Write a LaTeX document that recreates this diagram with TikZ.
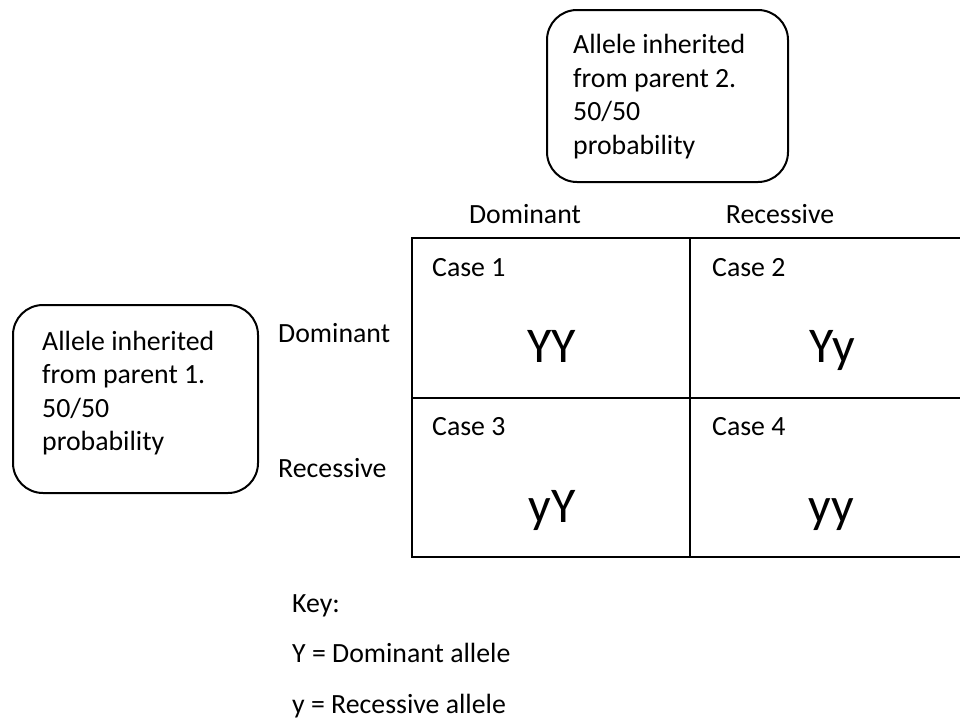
\documentclass[tikz,border=0pt]{standalone}
\usepackage{fontspec}
\setmainfont{Carlito}
\begin{document}
\begin{tikzpicture}[x=1pt,y=-1pt,
  txt/.style={inner sep=0pt, anchor=base west, font=\fontsize{27.8}{33.5}\selectfont, align=left},
  lbl/.style={inner sep=0pt, anchor=base, font=\fontsize{27.8}{33.5}\selectfont},
  big/.style={inner sep=0pt, anchor=base, font=\fontsize{50}{60}\selectfont},
  rbox/.style={draw, line width=2pt, rounded corners=30pt, inner sep=0pt},
  cell/.style={draw, line width=2pt, inner sep=0pt}]
\useasboundingbox (0,0) rectangle (960,720);
\clip (0,0) rectangle (960,720);
% rounded boxes
\node[rbox, minimum width=241pt, minimum height=172pt] (p2box) at (667.5,96) {};
\node[txt] (p2txt) at (573,154) {Allele inherited\\from parent 2.\\50/50\\probability};
\node[rbox, minimum width=245pt, minimum height=188pt] (p1box) at (135.5,399) {};
\node[txt] (p1txt) at (42,450.5) {Allele inherited\\from parent 1.\\50/50\\probability};
% grid cells
\node[cell, minimum width=278pt, minimum height=160pt] (c1) at (551,318) {};
\node[cell, minimum width=284pt, minimum height=160pt] (c2) at (832,318) {};
\node[cell, minimum width=278pt, minimum height=159pt] (c3) at (551,477.5) {};
\node[cell, minimum width=284pt, minimum height=159pt] (c4) at (832,477.5) {};
% headers
\node[lbl] (hdom) at (525,223) {Dominant};
\node[lbl] (hrec) at (780,223) {Recessive};
\node[txt] (sdom) at (278,342) {Dominant};
\node[txt] (srec) at (278,477) {Recessive};
% cell contents
\node[txt] (k1) at (432,276) {Case 1};
\node[txt] (k2) at (712,276) {Case 2};
\node[txt] (k3) at (432,435) {Case 3};
\node[txt] (k4) at (712,435) {Case 4};
\node[big] (g1) at (552,362) {YY};
\node[big] (g2) at (832,362) {Yy};
\node[big] (g3) at (552,522) {yY};
\node[big] (g4) at (831,522) {yy};
% key
\node[txt] (key) at (292,612) {Key:};
\node[txt] (key1) at (292,662) {Y = Dominant allele};
\node[txt] (key2) at (292,713) {y = Recessive allele};
\end{tikzpicture}
\end{document}
